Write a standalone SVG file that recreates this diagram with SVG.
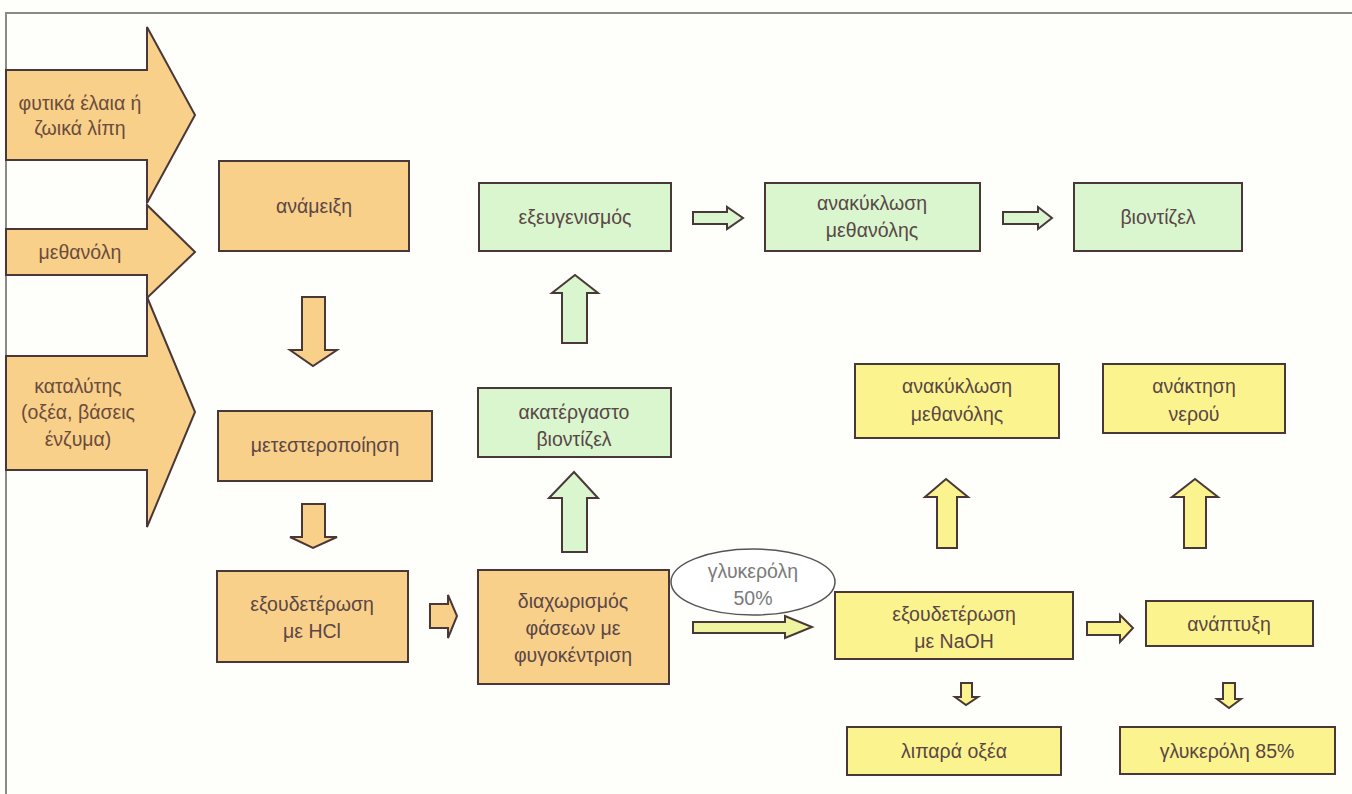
<svg xmlns="http://www.w3.org/2000/svg" width="1352" height="794" viewBox="0 0 1352 794">
<style>
text{font-family:"Liberation Sans","Open Sans",sans-serif;font-size:19.5px;fill:#5a4646;text-anchor:middle}
.or{fill:#f8d08a;stroke:#4a3838;stroke-width:2}
.gr{fill:#d9f6cf;stroke:#4a3838;stroke-width:2}
.ye{fill:#fbf48e;stroke:#4a3838;stroke-width:2}
.yg{fill:#eef4a0;stroke:#4a3838;stroke-width:2}
.lt{fill:#6a4c3c}
</style>
<rect width="1352" height="794" fill="#fefefb"/>
<path d="M6,794 V13 H1352" fill="none" stroke="#8a8a8a" stroke-width="2"/>

<g id="input-oils">
<polygon class="or" points="6,70 147,70 147,27 195,115 147,203 147,160 6,160"/>
<text class="lt" x="80" y="110">φυτικά έλαια ή</text>
<text class="lt" x="80" y="135">ζωικά λίπη</text>
</g>
<g id="input-methanol">
<polygon class="or" points="6,229 147,229 147,205 195,252 147,298 147,275 6,275"/>
<text class="lt" x="80" y="259">μεθανόλη</text>
</g>
<g id="input-catalyst">
<polygon class="or" points="6,356 147,356 147,297 195,412 147,527 147,470 6,470"/>
<text class="lt" x="78" y="393">καταλύτης</text>
<text class="lt" x="78" y="419">(οξέα, βάσεις</text>
<text class="lt" x="78" y="446">ένζυμα)</text>
</g>

<g id="mixing">
<rect class="or" x="219" y="161" width="190" height="90"/>
<text x="314" y="213">ανάμειξη</text>
</g>
<g id="transesterification">
<rect class="or" x="218" y="411" width="214" height="70"/>
<text x="325" y="452">μετεστεροποίηση</text>
</g>
<g id="neutralization-hcl">
<rect class="or" x="217" y="571" width="191" height="91"/>
<text x="312" y="611">εξουδετέρωση</text>
<text x="312" y="638">με HCl</text>
</g>
<g id="separation">
<rect class="or" x="478" y="570" width="191" height="114"/>
<text x="573" y="608">διαχωρισμός</text>
<text x="573" y="635">φάσεων με</text>
<text x="573" y="662">φυγοκέντριση</text>
</g>

<g id="refining">
<rect class="gr" x="479" y="183" width="192" height="68"/>
<text x="575" y="224">εξευγενισμός</text>
</g>
<g id="methanol-recovery-1">
<rect class="gr" x="765" y="183" width="215" height="68"/>
<text x="872" y="210">ανακύκλωση</text>
<text x="872" y="237">μεθανόλης</text>
</g>
<g id="biodiesel">
<rect class="gr" x="1074" y="183" width="168" height="68"/>
<text x="1158" y="224">βιοντίζελ</text>
</g>
<g id="crude-biodiesel">
<rect class="gr" x="478" y="388" width="193" height="69"/>
<text x="574" y="419">ακατέργαστο</text>
<text x="574" y="446">βιοντίζελ</text>
</g>

<g id="glycerol-50">
<ellipse cx="753" cy="582" rx="82" ry="33" fill="#ffffff" stroke="#555" stroke-width="1.5"/>
<text x="753" y="578" style="fill:#7a7a7a">γλυκερόλη</text>
<text x="753" y="605" style="fill:#7a7a7a">50%</text>
</g>

<g id="methanol-recovery-2">
<rect class="ye" x="855" y="364" width="204" height="74"/>
<text x="957" y="393">ανακύκλωση</text>
<text x="957" y="421">μεθανόλης</text>
</g>
<g id="water-recovery">
<rect class="ye" x="1103" y="364" width="182" height="69"/>
<text x="1194" y="393">ανάκτηση</text>
<text x="1194" y="421">νερού</text>
</g>
<g id="neutralization-naoh">
<rect class="ye" x="835" y="592" width="238" height="67"/>
<text x="954" y="621">εξουδετέρωση</text>
<text x="954" y="648">με NaOH</text>
</g>
<g id="fatty-acids">
<rect class="ye" x="847" y="727" width="214" height="48"/>
<text x="954" y="758">λιπαρά οξέα</text>
</g>
<g id="development">
<rect class="ye" x="1146" y="601" width="167" height="45"/>
<text x="1229" y="631">ανάπτυξη</text>
</g>
<g id="glycerol-85">
<rect class="ye" x="1120" y="727" width="215" height="47"/>
<text x="1227" y="758">γλυκερόλη 85%</text>
</g>

<g id="connectors">
<polygon class="or" points="302,297 325,297 325,350 337,350 313,366 290,350 302,350"/>
<polygon class="or" points="302,504 325,504 325,537 337,537 313,548 290,537 302,537"/>
<polygon class="or" points="430,604 448,604 448,595 457,616 448,638 448,628 430,628"/>
<polygon class="gr" points="562,552 587,552 587,498 598,498 574,472 549,498 562,498"/>
<polygon class="gr" points="562,343 587,343 587,293 598,293 575,275 552,293 562,293"/>
<polygon class="gr" points="693,212 727,212 727,207 743,218 727,229 727,224 693,224"/>
<polygon class="gr" points="1003,212 1038,212 1038,207 1052,218 1038,229 1038,224 1003,224"/>
<polygon class="yg" points="693,622 785,622 785,616 812,627 785,638 785,633 693,633"/>
<polygon class="ye" points="937,548 957,548 957,497 968,497 946,479 925,497 937,497"/>
<polygon class="ye" points="1184,548 1206,548 1206,497 1218,497 1195,479 1172,497 1184,497"/>
<polygon class="ye" points="1087,622 1120,622 1120,615 1133,628 1120,642 1120,635 1087,635"/>
<polygon class="ye" points="961,683 972,683 972,697 978,697 966,705 955,697 961,697"/>
<polygon class="ye" points="1223,683 1235,683 1235,699 1241,699 1229,708 1217,699 1223,699"/>
</g>
</svg>
